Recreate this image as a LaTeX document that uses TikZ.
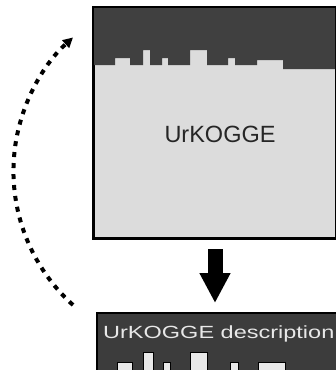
\documentclass[tikz,border=0pt]{standalone}
\usepackage{fontspec}
\setmainfont{Liberation Sans}
\usepackage{graphicx}
\usetikzlibrary{arrows.meta, positioning}
\definecolor{bandgray}{HTML}{404040}
\definecolor{boxgray}{HTML}{DCDCDC}
\definecolor{bargray}{HTML}{E8E8E8}
\definecolor{descgray}{HTML}{3C3C3C}

\begin{document}
\begin{tikzpicture}[
  x=1pt, y=-1pt,
  panel/.style={rectangle, draw=black, line width=2pt, anchor=north west, inner sep=0pt},
  lbl/.style={font=\fontsize{23.5}{28}\selectfont, inner sep=0pt},
  skybar/.style={fill=bargray, draw=black, line width=1pt},
  down/.style={-{Triangle[length=30pt,width=29pt]}, line width=15pt},
  loopline/.style={-{Triangle[length=10pt,width=10pt]}, line width=4pt, dash pattern=on 5pt off 6pt}
]
\clip (0,0) rectangle (336,370);

% upper panel
\node[panel, fill=boxgray, minimum width=242pt, minimum height=230pt] (urkogge) at (93,7) {};
\fill[bandgray] (93,7) -- (335,7) -- (335,69) -- (283,69) -- (283,60) -- (257,60) -- (257,65)
  -- (235,65) -- (235,58) -- (228,58) -- (228,65) -- (207,65) -- (207,50) -- (190,50)
  -- (190,65) -- (168,65) -- (168,58) -- (162,58) -- (162,65) -- (150,65) -- (150,50)
  -- (143,50) -- (143,65) -- (130,65) -- (130,58) -- (115,58) -- (115,65) -- (93,65) -- cycle;
\draw[line width=2pt] (urkogge.north west) rectangle (urkogge.south east);
\node[lbl, anchor=base, text=black!85] (urkoggelbl) at (220,142) {UrKOGGE};

% lower panel
\node[panel, fill=descgray, minimum width=240pt, minimum height=70pt] (desc) at (96,312) {};
\node[lbl, anchor=base west, text=bargray] (desclbl) at (103,338) {\scalebox{1}[0.75]{UrKOGGE description}};
\foreach \xa/\xb/\yt in {117/132/362, 143/153/352, 163/170/362, 190/207/352, 230/238/362, 258/285/362}
  \draw[skybar] (\xa,374) rectangle (\xb,\yt);

% arrows
\draw[down, shorten <=10pt, shorten >=9pt] (urkogge.south) -- (urkogge.south |- desc.north);
\coordinate (loopstart) at (73,305);
\draw[loopline] (loopstart) arc[start angle=132, end angle=228, radius=180];
\end{tikzpicture}
\end{document}
